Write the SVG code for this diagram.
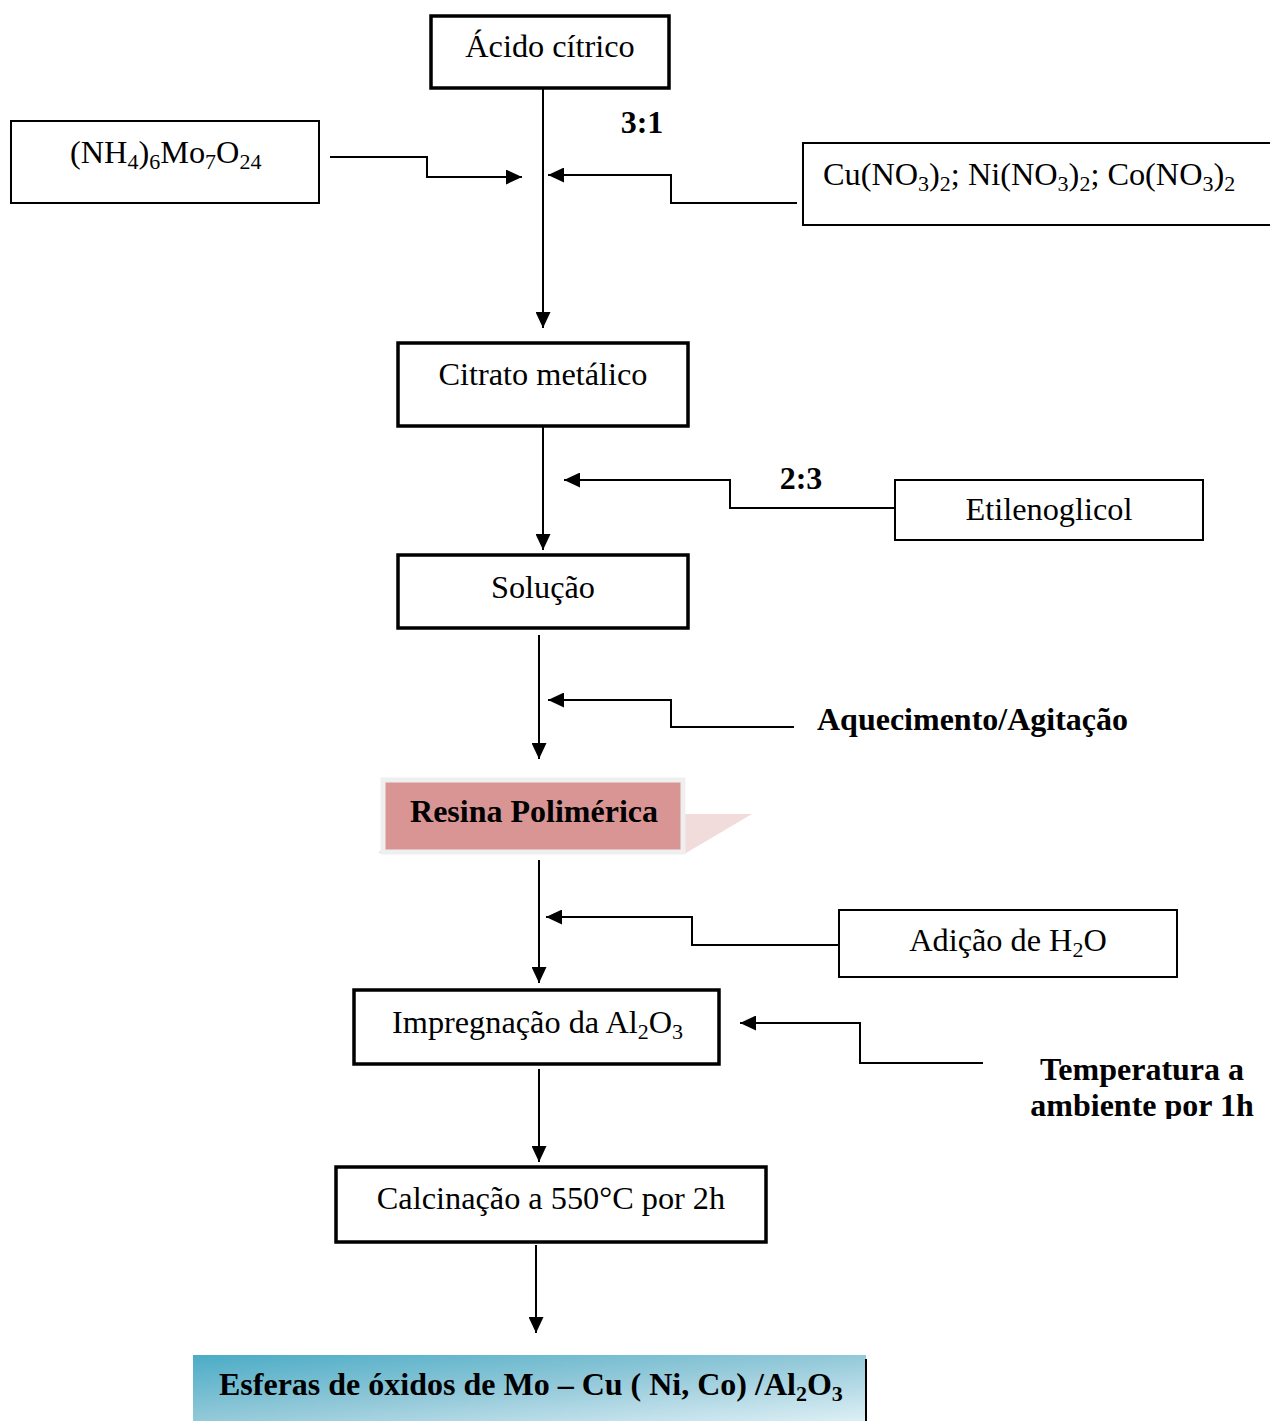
<svg xmlns="http://www.w3.org/2000/svg" width="1270" height="1421" viewBox="0 0 1270 1421">
<style>
text{font-family:"Liberation Serif","Times New Roman",serif;fill:#000;}
.t{font-size:32.3px;}
.b{font-size:32px;font-weight:bold;}
.s{font-size:22px;}
.box{fill:#fff;stroke:#000;stroke-width:3.5;}
.sbox{fill:#fff;stroke:#000;stroke-width:2;}
.c{fill:none;stroke:#000;stroke-width:2;marker-end:url(#ah);}
</style>
<defs>
<marker id="ah" markerUnits="userSpaceOnUse" markerWidth="16" markerHeight="15" refX="16" refY="7.5" orient="auto">
<path d="M0,0 L16,7.5 L0,15 z" fill="#000"/>
</marker>
<linearGradient id="g1" x1="0" y1="0" x2="1" y2="1">
<stop offset="0" stop-color="#4BACC6"/>
<stop offset="0.5" stop-color="#93C9D9"/>
<stop offset="1" stop-color="#DDEFF5"/>
</linearGradient>
<clipPath id="clipT"><rect x="990" y="1040" width="280" height="79"/></clipPath>
</defs>

<g id="connectors">
<path class="c" d="M543,88 V328"/>
<path class="c" d="M330,157 H427 V177 H522"/>
<path class="c" d="M797,203 H671 V175 H548"/>
<path class="c" d="M543,426 V550"/>
<path class="c" d="M895,508 H730 V480 H564"/>
<path class="c" d="M539,635 V759"/>
<path class="c" d="M794,727 H671 V700 H548"/>
<path class="c" d="M539,860 V983"/>
<path class="c" d="M839,945 H692 V917 H546"/>
<path class="c" d="M539,1069 V1162"/>
<path class="c" d="M983,1063 H860 V1023 H740"/>
<path class="c" d="M536,1245 V1333"/>
</g>

<g id="acido">
<rect class="box" x="431" y="16" width="238" height="72"/>
<text class="t" x="550" y="57" text-anchor="middle">Ácido cítrico</text>
</g>

<g id="nh4">
<rect class="sbox" x="11" y="121" width="308" height="82"/>
<text class="t" x="70" y="163">(NH<tspan class="s" dy="6">4</tspan><tspan dy="-6">)</tspan><tspan class="s" dy="6">6</tspan><tspan dy="-6">Mo</tspan><tspan class="s" dy="6">7</tspan><tspan dy="-6">O</tspan><tspan class="s" dy="6">24</tspan></text>
</g>

<g id="nitratos">
<rect class="sbox" x="803" y="143" width="470" height="82"/>
<text class="t" x="823" y="185">Cu(NO<tspan class="s" dy="6">3</tspan><tspan dy="-6">)</tspan><tspan class="s" dy="6">2</tspan><tspan dy="-6">; Ni(NO</tspan><tspan class="s" dy="6">3</tspan><tspan dy="-6">)</tspan><tspan class="s" dy="6">2</tspan><tspan dy="-6">; Co(NO</tspan><tspan class="s" dy="6">3</tspan><tspan dy="-6">)</tspan><tspan class="s" dy="6">2</tspan></text>
</g>

<g id="lbl31"><text class="b" x="642" y="133" text-anchor="middle">3:1</text></g>

<g id="citrato">
<rect class="box" x="398" y="343" width="290" height="83"/>
<text class="t" x="543" y="385" text-anchor="middle">Citrato metálico</text>
</g>

<g id="lbl23"><text class="b" x="801" y="489" text-anchor="middle">2:3</text></g>

<g id="etileno">
<rect class="sbox" x="895" y="480" width="308" height="60"/>
<text class="t" x="1049" y="520" text-anchor="middle">Etilenoglicol</text>
</g>

<g id="solucao">
<rect class="box" x="398" y="555" width="290" height="73"/>
<text class="t" x="543" y="598" text-anchor="middle">Solução</text>
</g>

<g id="aquec"><text class="b" x="817" y="730">Aquecimento/Agitação</text></g>

<g id="resina">
<polygon points="683,814 752,814 686,853 378,853 383,849 683,849" fill="#F2DBDB"/>
<rect x="383" y="780" width="300" height="72" fill="#D99594" stroke="#EFEFEF" stroke-width="5"/>
<text class="b" x="534" y="822" text-anchor="middle">Resina Polimérica</text>
</g>

<g id="adicao">
<rect class="sbox" x="839" y="910" width="338" height="67"/>
<text class="t" x="1008" y="951" text-anchor="middle">Adição de H<tspan class="s" dy="6">2</tspan><tspan dy="-6">O</tspan></text>
</g>

<g id="impreg">
<rect class="box" x="354" y="990" width="365" height="74"/>
<text class="t" x="392" y="1033">Impregnação da Al<tspan class="s" dy="6">2</tspan><tspan dy="-6">O</tspan><tspan class="s" dy="6">3</tspan></text>
</g>

<g id="temp" clip-path="url(#clipT)">
<text class="b" x="1142" y="1080" text-anchor="middle">Temperatura a</text>
<text class="b" x="1142" y="1116" text-anchor="middle">ambiente por 1h</text>
</g>

<g id="calcin">
<rect class="box" x="336" y="1167" width="430" height="75"/>
<text class="t" x="551" y="1209" text-anchor="middle">Calcinação a 550°C por 2h</text>
</g>

<g id="esferas">
<rect x="193" y="1355" width="673" height="66" fill="url(#g1)"/>
<line x1="866" y1="1359" x2="866" y2="1421" stroke="#000" stroke-width="2"/>
<text class="b" x="219" y="1395">Esferas de óxidos de Mo – Cu ( Ni, Co) /Al<tspan class="s" dy="6">2</tspan><tspan dy="-6">O</tspan><tspan class="s" dy="6">3</tspan></text>
</g>
</svg>
